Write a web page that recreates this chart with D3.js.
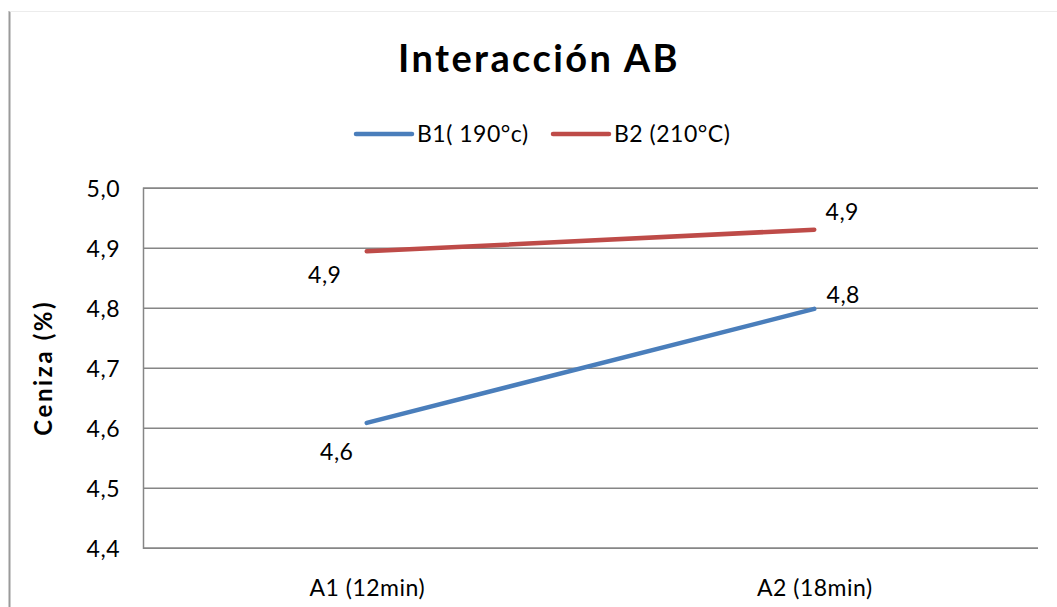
<!DOCTYPE html>
<html>
<head>
<meta charset="utf-8">
<script src="https://cdn.jsdelivr.net/npm/d3@7"></script>
<style>
  html, body { margin: 0; padding: 0; background: #ffffff; }
  svg { display: block; }
  text { font-family: Lato, "Open Sans", sans-serif; fill: #000; }
</style>
</head>
<body>
<svg id="chart" width="1057" height="607"></svg>
<script>
// Ash content by heating time (A) and temperature (B)
const categories = ["A1 (12min)", "A2 (18min)"];
const seriesNames = ["B1( 190°c)", "B2 (210°C)"];
const b1Values = [4.608, 4.798];
const b2Values = [4.894, 4.930];
const yTicks = [4.4, 4.5, 4.6, 4.7, 4.8, 4.9, 5.0];

const series = [
  { name: seriesNames[0], values: b1Values, color: "#4A7EBB",
    labelOffsets: [[-30, 29], [29, -14]] },
  { name: seriesNames[1], values: b2Values, color: "#BE4B48",
    labelOffsets: [[-42, 23], [28, -18]] }
];

const svg = d3.select("#chart");
const plot = { left: 143, right: 1038, top: 187.7, bottom: 547.7 };
const bodyFont = "23px";
const bodySpacing = "0.5px";

const x = d3.scalePoint().domain(categories)
  .range([plot.left, plot.right]).padding(0.5);
const y = d3.scaleLinear().domain([4.4, 5.0])
  .range([plot.bottom, plot.top]);
const fmt = v => d3.format(".1f")(v).replace(".", ",");

// Outer frame edges
svg.append("line").attr("x1", 9.5).attr("x2", 9.5).attr("y1", 11).attr("y2", 607)
  .attr("stroke", "#9a9a9a").attr("stroke-width", 2);
svg.append("line").attr("x1", 9.5).attr("x2", 1057).attr("y1", 11.5).attr("y2", 11.5)
  .attr("stroke", "#ececec").attr("stroke-width", 1);

// Title
svg.append("text").attr("x", 539).attr("y", 72)
  .attr("text-anchor", "middle")
  .style("font-size", "38px").style("font-weight", "bold")
  .style("letter-spacing", "2.4px")
  .text("Interacción AB");

// Horizontal gridlines + y tick labels
const yAxis = d3.axisLeft(y).tickValues(yTicks)
  .tickSize(-(plot.right - plot.left)).tickFormat(fmt).tickPadding(23);
const gy = svg.append("g").attr("transform", `translate(${plot.left},0)`).call(yAxis);
gy.select(".domain").attr("stroke", "#868686").attr("stroke-width", 1.5);
gy.selectAll(".tick line").attr("stroke", "#868686").attr("stroke-width", 1.5);
gy.selectAll(".tick text").style("font-size", bodyFont).style("letter-spacing", bodySpacing)
  .attr("fill", "#000").attr("dy", "0.4em");

// Category labels
const xAxis = d3.axisBottom(x).tickSize(0);
const gx = svg.append("g").attr("transform", `translate(0,${plot.bottom})`).call(xAxis);
gx.select(".domain").remove();
gx.selectAll(".tick text").style("font-size", bodyFont).style("letter-spacing", bodySpacing)
  .attr("fill", "#000").attr("y", 48).attr("dy", 0);

// Y axis title
svg.append("text")
  .attr("transform", `translate(52,${(plot.top + plot.bottom) / 2}) rotate(-90)`)
  .attr("text-anchor", "middle")
  .style("font-size", "24px").style("font-weight", "bold")
  .style("letter-spacing", "2.6px")
  .text("Ceniza (%)");

// Series lines
const line = d3.line().x((d, i) => x(categories[i])).y(d => y(d));
series.forEach(s => {
  svg.append("path").datum(s.values)
    .attr("d", line).attr("fill", "none")
    .attr("stroke", s.color).attr("stroke-width", 4.5)
    .attr("stroke-linecap", "round");
});

// Data labels
series.forEach(s => {
  s.values.forEach((v, i) => {
    svg.append("text")
      .attr("x", x(categories[i]) + s.labelOffsets[i][0])
      .attr("y", y(v) + s.labelOffsets[i][1])
      .attr("text-anchor", "middle").attr("dy", "0.36em")
      .style("font-size", bodyFont).style("letter-spacing", bodySpacing)
      .text(fmt(v));
  });
});

// Legend
const legend = svg.append("g");
const legendItems = [
  { name: series[0].name, color: series[0].color, x0: 356 },
  { name: series[1].name, color: series[1].color, x0: 553 }
];
legendItems.forEach(it => {
  legend.append("line").attr("x1", it.x0).attr("x2", it.x0 + 56)
    .attr("y1", 134).attr("y2", 134)
    .attr("stroke", it.color).attr("stroke-width", 4.5).attr("stroke-linecap", "round");
  legend.append("text").attr("x", it.x0 + 61).attr("y", 134).attr("dy", "0.36em")
    .style("font-size", bodyFont).style("letter-spacing", bodySpacing)
    .text(it.name);
});
</script>
</body>
</html>
